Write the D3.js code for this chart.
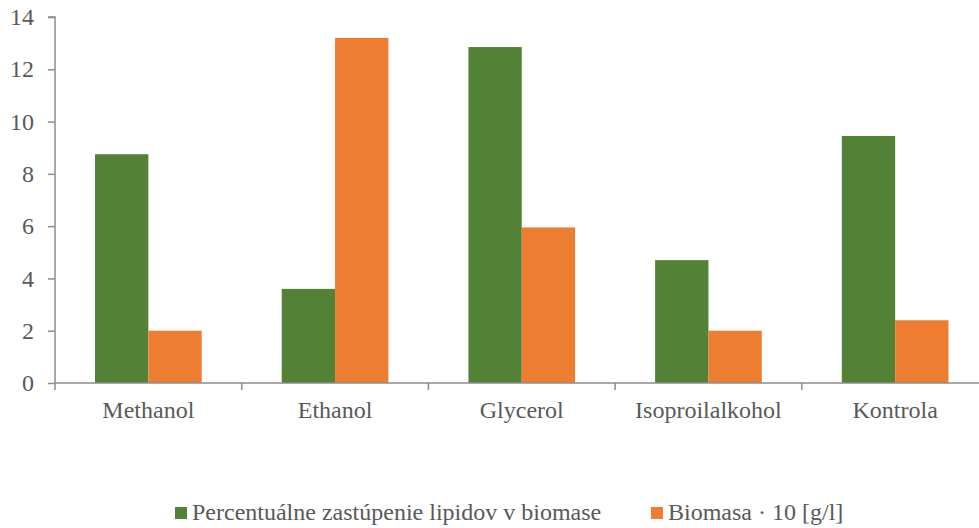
<!DOCTYPE html>
<html><head><meta charset="utf-8">
<script src="https://cdn.jsdelivr.net/npm/d3@7"></script>
<style>body{margin:0;background:#fff}svg{display:block}</style>
</head><body>
<script>
const categories = ["Methanol","Ethanol","Glycerol","Isoproilalkohol","Kontrola"];
const seriesNames = ["Percentuálne zastúpenie lipidov v biomase","Biomasa · 10 [g/l]"];
const lipids = [8.75, 3.6, 12.85, 4.7, 9.45];
const biomass = [2.0, 13.2, 5.95, 2.0, 2.4];
const yTicks = [0,2,4,6,8,10,12,14];
const colors = ["#538135","#ED7D31"];

const W = 979, H = 528;
const svg = d3.select("body").append("svg").attr("width",W).attr("height",H);
const font = "'Liberation Serif','Times New Roman',serif";
const fs = "24px";
const x0 = 55, plotW = 933.5, y0 = 383, yTop = 17;

const x = d3.scaleBand().domain(categories).range([x0, x0+plotW]).paddingInner(0).paddingOuter(0);
const y = d3.scaleLinear().domain([0,14]).range([y0, yTop]);
const groupW = x.bandwidth()*(2/3.5);
const x1 = d3.scaleBand().domain([0,1]).range([0, groupW]);

const data = [lipids, biomass];
categories.forEach((c,i)=>{
  data.forEach((s,j)=>{
    const bx = x(c) + (x.bandwidth()-groupW)/2 + x1(j);
    svg.append("rect").attr("x",bx).attr("y",y(s[i])).attr("width",x1.bandwidth()).attr("height",y0-y(s[i])).attr("fill",colors[j]);
  });
});

// y axis
const ya = svg.append("g").attr("transform",`translate(${x0},0)`)
  .call(d3.axisLeft(y).tickValues(yTicks).tickSize(7).tickPadding(14).tickFormat(d3.format("d")));
ya.attr("font-family",font).attr("font-size",fs);
ya.select(".domain").attr("stroke","#8c8c8c").attr("stroke-width",1.5).attr("d",`M-7,${yTop}H0V${y0}`);
ya.selectAll(".tick line").attr("stroke","#8c8c8c").attr("stroke-width",1.5);
ya.selectAll(".tick text").attr("fill","#595959").style("font-family",font).style("font-size",fs);

// x axis
const xa = svg.append("g").attr("transform",`translate(0,${y0})`);
xa.append("line").attr("x1",x0).attr("x2",x0+plotW).attr("y1",0).attr("y2",0).attr("stroke","#8c8c8c").attr("stroke-width",1.5);
categories.forEach((c,i)=>{
  const bx = x(c);
  xa.append("line").attr("x1",bx).attr("x2",bx).attr("y1",0).attr("y2",7).attr("stroke","#8c8c8c").attr("stroke-width",1.5);
  xa.append("text").attr("x",bx+x.bandwidth()/2).attr("y",35).attr("text-anchor","middle")
    .attr("fill","#595959").style("font-family",font).style("font-size",fs).text(c);
});

// legend
const leg = [{x:175, t:seriesNames[0], c:colors[0]},{x:651, t:seriesNames[1], c:colors[1]}];
leg.forEach(l=>{
  svg.append("rect").attr("x",l.x).attr("y",507).attr("width",12).attr("height",12).attr("fill",l.c);
  svg.append("text").attr("x",l.x+17).attr("y",520).attr("fill","#595959").style("font-family",font).style("font-size",fs).text(l.t);
});
</script>
</body></html>
